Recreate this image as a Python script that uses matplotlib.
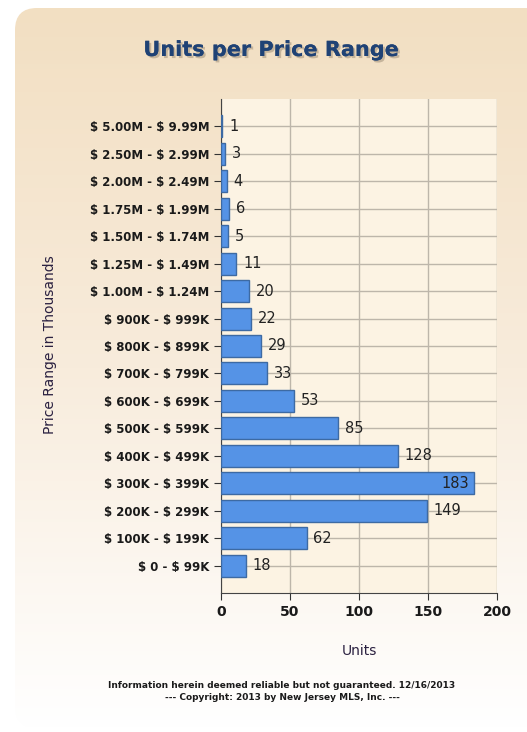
import numpy as np
import matplotlib.pyplot as plt
import matplotlib.patheffects as pe
from matplotlib.patches import FancyBboxPatch
from matplotlib.colors import LinearSegmentedColormap

plt.rcParams["text.parse_math"] = False

# data, bottom to top
ranges = ["$ 0 - $ 99K", "$ 100K - $ 199K", "$ 200K - $ 299K", "$ 300K - $ 399K",
          "$ 400K - $ 499K", "$ 500K - $ 599K", "$ 600K - $ 699K", "$ 700K - $ 799K",
          "$ 800K - $ 899K", "$ 900K - $ 999K", "$ 1.00M - $ 1.24M", "$ 1.25M - $ 1.49M",
          "$ 1.50M - $ 1.74M", "$ 1.75M - $ 1.99M", "$ 2.00M - $ 2.49M", "$ 2.50M - $ 2.99M",
          "$ 5.00M - $ 9.99M"]
units = [18, 62, 149, 183, 128, 85, 53, 33, 29, 22, 20, 11, 5, 6, 4, 3, 1]
x_ticks = [0, 50, 100, 150, 200]

W, H = 527, 732
fig = plt.figure(figsize=(W / 100, H / 100), dpi=100)
fig.patch.set_facecolor("white")

# background panel with gradient, rounded corners
bg = fig.add_axes([0, 0, 1, 1])
bg.set_xlim(0, W)
bg.set_ylim(H, 0)
bg.axis("off")
cmap = LinearSegmentedColormap.from_list("bg", ["#f2dfc2", "#f8ecdc", "#ffffff"])
grad = np.linspace(0, 1, 256).reshape(-1, 1)
im = bg.imshow(grad, extent=[15, W + 20, 728, 8], cmap=cmap, aspect="auto")
panel = FancyBboxPatch((15, 8), W + 5, 720, boxstyle="round,pad=0,rounding_size=22",
                       facecolor="none", edgecolor="none", transform=bg.transData)
bg.add_patch(panel)
im.set_clip_path(panel)

# main chart
ax = fig.add_axes([221 / W, 1 - 593 / H, (497 - 221) / W, (593 - 99) / H])
ax.set_facecolor("#fcf3e3")
y = np.arange(len(ranges))
ax.barh(y, units, height=0.8, color="#5593e6", edgecolor="#3d6aa3", linewidth=1, zorder=3)
for yi, v in zip(y, units):
    if v > 175:
        ax.text(v - 3, yi, str(v), ha="right", va="center", fontsize=10.5, color="#222222", zorder=4)
    else:
        ax.text(v + 5, yi, str(v), ha="left", va="center", fontsize=10.5, color="#222222", zorder=4)

ax.set_xlim(0, 200)
ax.set_ylim(-1, len(ranges))
ax.set_xticks(x_ticks)
ax.set_yticks(y)
ax.set_yticklabels(ranges, fontsize=8.5, fontweight="bold", color="#1a1a1a")
ax.set_xticklabels([str(t) for t in x_ticks], fontsize=10, fontweight="bold", color="#1a1a1a")
ax.grid(True, color="#bdb6aa", linewidth=1, zorder=0)
for s in ["top", "right"]:
    ax.spines[s].set_visible(False)
ax.spines["left"].set_color("#444444")
ax.spines["bottom"].set_color("#444444")
ax.tick_params(axis="both", length=5, color="#333333", direction="out")

ax.set_xlabel("Units", fontsize=10, color="#2a2040", labelpad=18)
fig.text(50 / W, 1 - 345 / H, "Price Range in Thousands", rotation=90, ha="center",
         va="center", fontsize=10, color="#2a2040")

fig.text(0.515, 1 - 50 / H, "Units per Price Range", ha="center", va="center",
         fontsize=15, fontweight="bold", color="#1f4275",
         path_effects=[pe.withSimplePatchShadow(offset=(1.5, -1.5), shadow_rgbFace="#a89880", alpha=0.6),
                       pe.Normal()])

fig.text(0.535, 1 - 686 / H, "Information herein deemed reliable but not guaranteed. 12/16/2013",
         ha="center", va="center", fontsize=6.5, fontweight="bold", color="#1a1a1a")
fig.text(0.535, 1 - 697 / H, "--- Copyright: 2013 by New Jersey MLS, Inc. ---",
         ha="center", va="center", fontsize=6.5, fontweight="bold", color="#1a1a1a")

fig.savefig("out.png", dpi=100)
